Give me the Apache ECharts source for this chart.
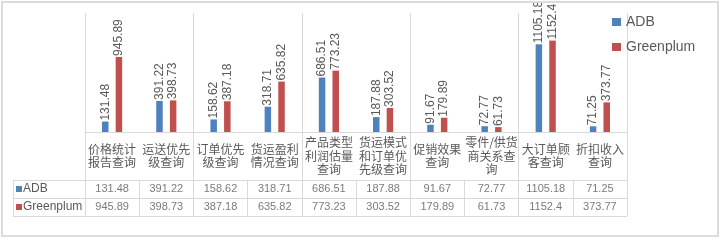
<!DOCTYPE html>
<html>
<head>
<meta charset="utf-8">
<script src="https://cdn.jsdelivr.net/npm/echarts@6/dist/echarts.min.js"></script>
<style>
  html, body { margin: 0; padding: 0; background: #fff; }
  #wrap { position: relative; width: 720px; height: 241px; }
  #chart { position: absolute; left: 0; top: 0; width: 720px; height: 241px; }
  #frame { position: absolute; left: 1px; top: 1px; width: 718px; height: 236px;
           box-sizing: border-box; border: 2px solid #dcdcdc; pointer-events: none; }
</style>
</head>
<body>
<div id="wrap"><div id="chart"></div><div id="frame"></div></div>
<script>
// Query names (wrapped as they appear in the cells) and timings per engine
const categories = [
  '价格统计\n报告查询',
  '运送优先\n级查询',
  '订单优先\n级查询',
  '货运盈利\n情况查询',
  '产品类型\n利润估量\n查询',
  '货运模式\n和订单优\n先级查询',
  '促销效果\n查询',
  '零件/供货\n商关系查\n询',
  '大订单顾\n客查询',
  '折扣收入\n查询'
];
const adbValues = [131.48, 391.22, 158.62, 318.71, 686.51, 187.88, 91.67, 72.77, 1105.18, 71.25];
const greenplumValues = [945.89, 398.73, 387.18, 635.82, 773.23, 303.52, 179.89, 61.73, 1152.4, 373.77];
const seriesNames = ['ADB', 'Greenplum'];
const seriesColors = ['#4f81bd', '#c0504d'];

// Layout of the plot and the data table underneath it
const plotLeft = 85, plotRight = 627, plotTop = 13, zeroY = 132, tableTop = 180, rowH = 18, tableLeft = 13;
const W = 720;
const yMax = 1500;
const yMin = -yMax * (tableTop - zeroY) / (zeroY - plotTop);
const lineColor = '#d9d9d9';
const textColor = '#595959';
const fontStack = "'Liberation Sans', 'Noto Sans CJK SC', sans-serif";

const valuesBySeries = [adbValues, greenplumValues];

// One label-only scatter point per table cell
const cellData = [];
valuesBySeries.forEach((vals, r) => {
  vals.forEach((v, i) => cellData.push([categories[i], seriesNames[r], v]));
});

const chart = echarts.init(document.getElementById('chart'), null, { renderer: 'canvas' });

chart.setOption({
  animation: false,
  backgroundColor: '#fff',
  textStyle: { fontFamily: fontStack },
  legend: {
    orient: 'vertical',
    left: 612,
    top: 15,
    padding: 0,
    itemGap: 11,
    itemWidth: 9,
    itemHeight: 8,
    icon: 'rect',
    data: seriesNames,
    textStyle: { fontSize: 14, color: textColor, fontFamily: fontStack }
  },
  grid: [
    { left: plotLeft, right: W - plotRight, top: plotTop, height: tableTop - plotTop },
    { left: plotLeft, right: W - plotRight, top: tableTop, height: rowH * 2 }
  ],
  xAxis: [
    {
      gridIndex: 0,
      type: 'category',
      data: categories,
      axisLine: { onZero: true, lineStyle: { color: lineColor } },
      axisTick: { show: false },
      axisLabel: { show: false },
      splitLine: { show: true, lineStyle: { color: lineColor } }
    },
    {
      // category names sit in the band between the zero line and the table
      gridIndex: 1,
      type: 'category',
      position: 'top',
      data: categories,
      axisLine: { show: false },
      axisTick: { show: false },
      axisLabel: {
        interval: 0,
        margin: (tableTop - zeroY) / 2,
        verticalAlign: 'middle',
        lineHeight: 13.5,
        fontSize: 12,
        color: textColor,
        fontFamily: "'Noto Sans CJK SC', sans-serif"
      },
      splitLine: { show: true, lineStyle: { color: lineColor } }
    }
  ],
  yAxis: [
    { gridIndex: 0, type: 'value', min: yMin, max: yMax, show: false },
    {
      gridIndex: 1,
      type: 'category',
      data: seriesNames,
      inverse: true,
      axisLine: { show: true, lineStyle: { color: lineColor } },
      axisTick: { show: true, length: plotLeft - tableLeft, lineStyle: { color: lineColor } },
      splitLine: { show: true, lineStyle: { color: lineColor } },
      axisLabel: {
        align: 'left',
        margin: plotLeft - tableLeft - 3,
        formatter: (v) => (v === 'ADB' ? '{a|}' : '{g|}') + '{t|' + v + '}',
        rich: {
          a: { width: 6, height: 6, backgroundColor: seriesColors[0] },
          g: { width: 6, height: 6, backgroundColor: seriesColors[1] },
          t: { fontSize: 12, color: textColor, padding: [0, 0, 0, 1], fontFamily: fontStack }
        }
      }
    },
    {
      gridIndex: 1,
      type: 'category',
      data: seriesNames,
      position: 'left',
      offset: plotLeft - tableLeft,
      axisLine: { show: true, lineStyle: { color: lineColor } },
      axisTick: { show: false },
      axisLabel: { show: false },
      splitLine: { show: false }
    }
  ],
  series: [
    ...seriesNames.map((name, r) => ({
      name,
      type: 'bar',
      xAxisIndex: 0,
      yAxisIndex: 0,
      data: valuesBySeries[r],
      barWidth: 6.5,
      barGap: '110%',
      itemStyle: { color: seriesColors[r] },
      label: {
        show: true,
        position: 'top',
        rotate: 90,
        align: 'left',
        verticalAlign: 'middle',
        distance: 1,
        fontSize: 12,
        color: textColor,
        fontFamily: fontStack
      }
    })),
    {
      type: 'scatter',
      xAxisIndex: 1,
      yAxisIndex: 1,
      data: cellData,
      symbolSize: 1,
      itemStyle: { color: 'rgba(0,0,0,0)' },
      silent: true,
      label: {
        show: true,
        position: 'inside',
        formatter: (p) => String(p.value[2]),
        fontSize: 11,
        color: textColor,
        fontFamily: fontStack
      }
    }
  ]
});
</script>
</body>
</html>
